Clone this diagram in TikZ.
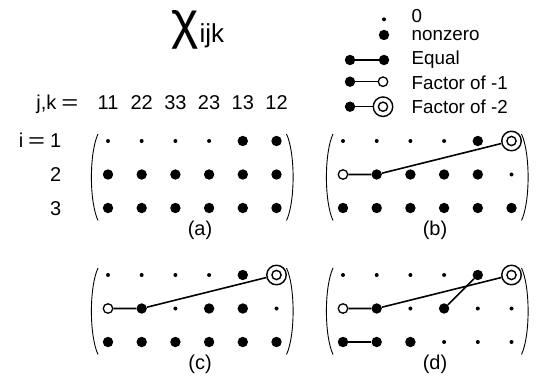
\documentclass[tikz,border=0pt]{standalone}
\usepackage{fontspec}
\setmainfont{Liberation Sans}
\begin{document}
\begin{tikzpicture}[x=1pt,y=-1pt,
  zero/.style={circle,fill=black,inner sep=0pt,minimum size=4pt},
  nz/.style={circle,fill=black,inner sep=0pt,minimum size=10.4pt},
  neg/.style={circle,draw=black,fill=white,line width=1.3pt,inner sep=0pt,minimum size=9.5pt},
  dbl/.style={circle,draw=black,fill=white,line width=1.4pt,inner sep=0pt,minimum size=19.5pt,
    path picture={\draw[line width=1.4pt] (path picture bounding box.center) circle (4.6pt);}},
  link/.style={line width=1.6pt},
  paren/.style={line width=0.9pt},
  lbl/.style={font=\fontsize{20}{20}\selectfont,inner sep=0pt},
  key/.style={font=\fontsize{18.8}{18.8}\selectfont,inner sep=0pt,anchor=base west},
]
\useasboundingbox (0,0) rectangle (537,379);

% one 3x6 array of entries with its parentheses: name, x of first column, y of first row, entries
\newcommand{\entrygrid}[4]{%
  \foreach \t [count=\n from 0] in {#4} {
    \pgfmathtruncatemacro\rr{div(\n,6)+1}
    \pgfmathtruncatemacro\cc{mod(\n,6)+1}
    \node[\t] (#1-\rr-\cc) at ({#2+33.7*(\cc-1)},{#3+33.5*(\rr-1)}) {};
  }
  \draw[paren] ({#2-10},{#3-7}) .. controls ({#2-18.8},{#3+12}) and ({#2-18.8},{#3+60.5}) .. ({#2-10},{#3+79.5});
  \draw[paren] ({#2+168.5+10},{#3-7}) .. controls ({#2+168.5+18.8},{#3+12}) and ({#2+168.5+18.8},{#3+60.5}) .. ({#2+168.5+10},{#3+79.5});
}

% title
\node[anchor=south,inner sep=0pt] (chi) at (185,49.5) {\fontsize{52}{52}\selectfont χ};
\node[anchor=base west,inner sep=0pt] (ijk) at (199.5,43) {\fontsize{26}{26}\selectfont ijk};

% column and row indices
\node[lbl,anchor=base east] (jk) at (78.5,109.5) {j,k\hspace{5pt}\scalebox{1.45}[1]{=}};
\foreach \s [count=\c from 0] in {11,22,33,23,13,12}
  \node[lbl,anchor=base] (col\s) at ({108+33.7*\c},109.5) {\s};
\node[lbl,anchor=base east] (row1) at (61.5,148) {i\hspace{5pt}\scalebox{1.45}[1]{=}\hspace{5pt}1};
\node[lbl,anchor=base east] (row2) at (61.5,181.5) {2};
\node[lbl,anchor=base east] (row3) at (61.5,215) {3};

% legend
\node[zero] (k0) at (384,19.3) {};
\node[nz] (k1) at (384,35) {};
\node[nz] (k2a) at (350,60) {};
\node[nz] (k2b) at (384,60) {};
\node[nz] (k3a) at (350,81.7) {};
\node[neg] (k3b) at (383,81.7) {};
\node[nz] (k4a) at (350,106.7) {};
\node[dbl] (k4b) at (383,106.7) {};
\draw[link] (k2a) -- (k2b);
\draw[link] (k3a) -- (k3b);
\draw[link] (k4a) -- (k4b);
\node[key] (t0) at (411.5,23) {0};
\node[key] (t1) at (411.5,40.5) {nonzero};
\node[key] (t2) at (411.5,64.5) {Equal};
\node[key] (t3) at (411.5,89.3) {Factor of -1};
\node[key] (t4) at (411.5,113.7) {Factor of -2};

% (a)
\entrygrid{a}{108}{141}{zero,zero,zero,zero,nz,nz,
  nz,nz,nz,nz,nz,nz,
  nz,nz,nz,nz,nz,nz}
\node[lbl] (la) at (200,230) {(a)};

% (b)
\entrygrid{b}{343}{141}{zero,zero,zero,zero,nz,dbl,
  neg,nz,nz,nz,nz,zero,
  nz,nz,nz,nz,nz,nz}
\draw[link] (b-2-1) -- (b-2-2) -- (b-1-6);
\node[lbl] (lb) at (435,230) {(b)};

% (c)
\entrygrid{c}{108}{275}{zero,zero,zero,zero,nz,dbl,
  neg,nz,zero,nz,nz,zero,
  nz,nz,nz,nz,nz,nz}
\draw[link] (c-2-1) -- (c-2-2) -- (c-1-6);
\node[lbl] (lc) at (200,364) {(c)};

% (d)
\entrygrid{d}{343}{275}{zero,zero,zero,zero,nz,dbl,
  neg,nz,zero,nz,zero,zero,
  nz,nz,nz,zero,zero,zero}
\draw[link] (d-2-1) -- (d-2-2) -- (d-1-6);
\draw[link] (d-2-4) -- (d-1-5);
\draw[link] (d-3-1) -- (d-3-2);
\node[lbl] (ld) at (435,364) {(d)};
\end{tikzpicture}
\end{document}
